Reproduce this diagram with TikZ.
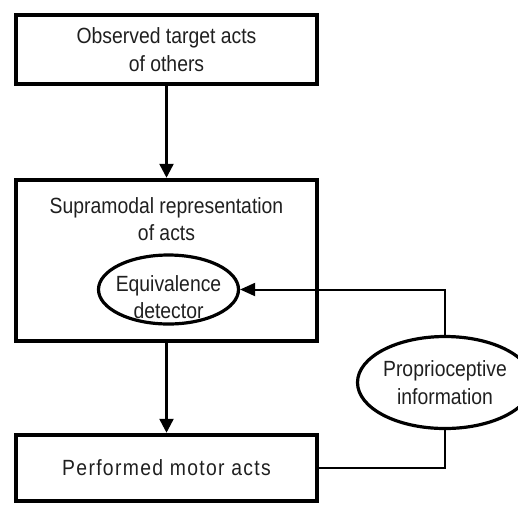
\documentclass[tikz,border=0pt]{standalone}
\usepackage{fontspec}
\setmainfont[FakeStretch=0.88]{Liberation Sans}
\newfontfamily\spaced[FakeStretch=0.88,LetterSpace=6]{Liberation Sans}
\usetikzlibrary{shapes.geometric,arrows.meta}
\begin{document}
\begin{tikzpicture}[x=1pt,y=-1pt,
  every node/.style={font=\fontsize{22}{27.5}\selectfont, text=black!88, align=center},
  box/.style={draw=black, line width=4.5pt, minimum width=301pt, inner sep=0pt},
  oval/.style={draw=black, ellipse, line width=3.2pt, inner sep=0pt},
  flow/.style={line width=2.5pt, -{Triangle[length=14pt,width=14pt]}},
  fb/.style={line width=2pt}
]
\useasboundingbox (0,0) rectangle (518,504);
\begin{scope}
\clip (0,0) rectangle (518,504);
\node[box, minimum height=69pt] (obs) at (166.5,49.5) {Observed target acts\\of others};
\node[box, minimum height=161pt] (sup) at (166.5,260.5) {};
\node (suptext) at (166.5,219) {Supramodal representation\\of acts};
\node[oval, minimum width=140pt, minimum height=69pt] (equiv) at (168.5,289.5) {};
\node (equivtext) at (168.5,297) {Equivalence\\detector};
\node[box, minimum height=66pt] (motor) at (166.5,468) {\spaced Performed motor acts};
\node[oval, minimum width=166pt, minimum height=92pt] (prop) at (445,382.5) {Proprioceptive\\information};
\draw[flow] (obs.south) -- (sup.north);
\draw[flow] (sup.south) -- (motor.north);
\draw[fb] (motor.east) -| (prop.south);
\draw[fb, -{Triangle[length=15pt,width=13pt]}] (prop.north) |- (equiv.east);
\end{scope}
\end{tikzpicture}
\end{document}
